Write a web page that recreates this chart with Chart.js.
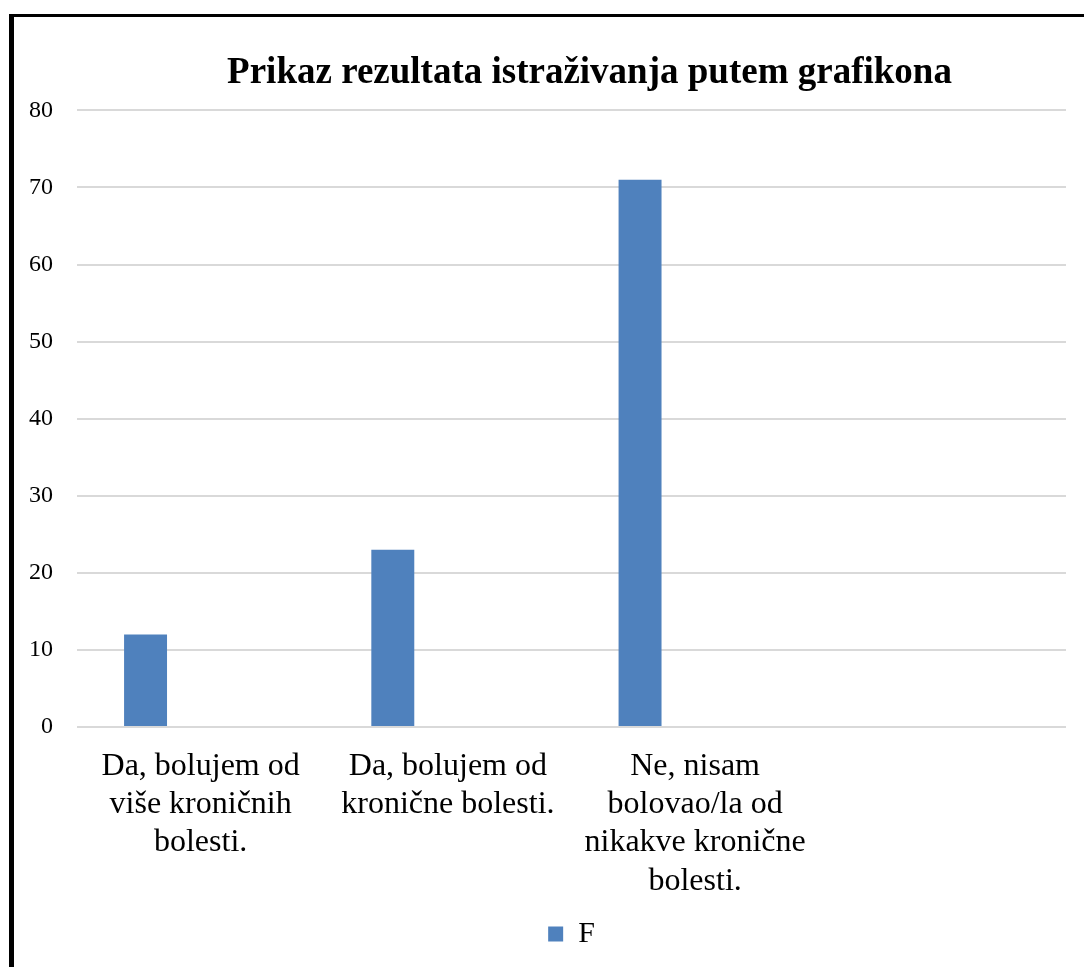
<!DOCTYPE html>
<html>
<head>
<meta charset="utf-8">
<script src="https://cdn.jsdelivr.net/npm/chart.js@4"></script>
<style>
  html, body { margin: 0; padding: 0; background: #fff; overflow: hidden; }
  #frame {
    position: absolute; left: 9px; top: 14px;
    width: 1075px; height: 1000px;
    border-left: 5px solid #000; border-top: 3px solid #000;
  }
  #box { position: absolute; left: 0; top: 0; width: 1070px; height: 942px; }
</style>
</head>
<body>
<div id="frame"><div id="box"><canvas id="chart"></canvas></div></div>
<script>
const categories = [
    ['Da, bolujem od', 'više kroničnih', 'bolesti.'],
    ['Da, bolujem od', 'kronične bolesti.'],
    ['Ne, nisam', 'bolovao/la od', 'nikakve kronične', 'bolesti.'],
    ''
];
const fValues = [12, 23, 71, null];
// second, empty series from the source sheet: keeps the F bars on the left of each slot
const emptyValues = [null, null, null, null];
const yMin = 0;
const yMax = 80;
const yStep = 10;

const serif = "'Liberation Serif', 'Times New Roman', serif";

// the Excel title sits a bit right of the plot centre
const titleNudge = {
    id: 'titleNudge',
    afterLayout(chart) {
        if (chart.titleBlock) {
            chart.titleBlock.left += 18;
            chart.titleBlock.right += 18;
        }
    }
};

new Chart(document.getElementById('chart').getContext('2d'), {
    type: 'bar',
    data: {
        labels: categories,
        datasets: [
            {
                label: 'F',
                data: fValues,
                backgroundColor: '#4f81bd',
                categoryPercentage: 0.891,
                barPercentage: 0.39
            },
            {
                label: '',
                data: emptyValues,
                backgroundColor: '#c0504d',
                categoryPercentage: 0.891,
                barPercentage: 0.39
            }
        ]
    },
    options: {
        responsive: true,
        maintainAspectRatio: false,
        animation: false,
        layout: { padding: { left: 14, right: 18, top: 34, bottom: 0 } },
        plugins: {
            title: {
                display: true,
                fullSize: false,
                text: 'Prikaz rezultata istraživanja putem grafikona',
                color: '#000',
                font: { family: serif, size: 37, weight: 'bold' },
                padding: { top: 0, bottom: 15 }
            },
            legend: {
                position: 'bottom',
                fullSize: false,
                labels: {
                    color: '#000',
                    font: { family: serif, size: 30 },
                    boxWidth: 15,
                    boxHeight: 15,
                    padding: 10,
                    filter: function (item) { return item.text !== ''; }
                }
            },
            tooltip: { enabled: false }
        },
        scales: {
            x: {
                grid: { display: false },
                border: { display: false },
                afterFit: function (scale) { scale.height = 182; },
                ticks: {
                    color: '#000',
                    font: { family: serif, size: 32 },
                    maxRotation: 0,
                    autoSkip: false,
                    padding: 12
                }
            },
            y: {
                min: yMin,
                max: yMax,
                border: { display: false },
                grid: { color: '#d9d9d9', lineWidth: 2, drawTicks: false },
                afterFit: function (scale) { scale.width = 49; },
                ticks: {
                    stepSize: yStep,
                    color: '#000',
                    font: { family: serif, size: 24 },
                    padding: 24
                }
            }
        }
    },
    plugins: [titleNudge]
});
</script>
</body>
</html>
